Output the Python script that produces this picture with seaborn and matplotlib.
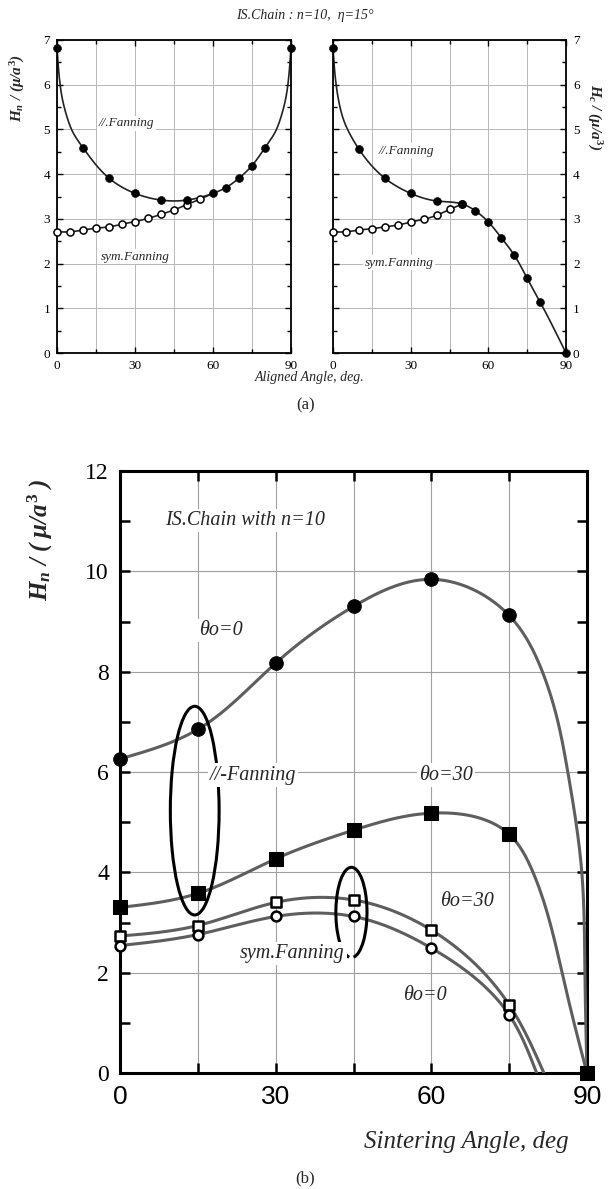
import numpy as np
import matplotlib
matplotlib.use("Agg")
import matplotlib.pyplot as plt
from matplotlib.patches import Arc
import seaborn as sns

sns.set_theme(style="white")
plt.rcParams["font.family"] = ["Liberation Serif", "DejaVu Serif"]
plt.rcParams["mathtext.fontset"] = "custom"
plt.rcParams["mathtext.it"] = "Liberation Serif:italic:bold"
plt.rcParams["mathtext.rm"] = "Liberation Serif:bold"
plt.rcParams["mathtext.bf"] = "Liberation Serif:bold"

# ---------------- data (a) ----------------
top_ang_par_l = [0, 10, 20, 30, 40, 50, 60, 65, 70, 75, 80, 90]
top_hn_par = [6.83, 4.59, 3.91, 3.57, 3.42, 3.42, 3.57, 3.70, 3.91, 4.19, 4.59, 6.83]
top_ang_sym_l = [0, 5, 10, 15, 20, 25, 30, 35, 40, 45, 50, 55]
top_hn_sym = [2.71, 2.71, 2.75, 2.79, 2.82, 2.88, 2.94, 3.01, 3.10, 3.20, 3.32, 3.44]
# curve points (left), including its steep ends
top_par_l_curve_x = [0, 1, 2, 4, 6, 10, 20, 30, 40, 45, 50, 60, 65, 70, 75, 80, 84, 86, 88, 89, 90]
top_par_l_curve_y = [6.83, 6.1, 5.7, 5.25, 4.95, 4.59, 3.91, 3.57, 3.42, 3.40, 3.42, 3.57, 3.70,
                     3.91, 4.19, 4.59, 4.95, 5.25, 5.7, 6.1, 6.83]
top_sym_l_curve_x = top_ang_sym_l + [60]
top_sym_l_curve_y = top_hn_sym + [3.57]

top_ang_par_r = [0, 10, 20, 30, 40, 50, 55, 60, 65, 70, 75, 80, 90]
top_hc_par = [6.83, 4.56, 3.91, 3.57, 3.40, 3.33, 3.18, 2.93, 2.58, 2.19, 1.67, 1.14, 0.0]
top_ang_sym_r = [0, 5, 10, 15, 20, 25, 30, 35, 40, 45, 50]
top_hc_sym = [2.71, 2.71, 2.75, 2.78, 2.82, 2.86, 2.93, 2.99, 3.08, 3.21, 3.33]
top_par_r_curve_x = [0, 1, 2, 4.5, 6.5] + top_ang_par_r[1:]
top_par_r_curve_y = [6.83, 6.1, 5.7, 5.15, 4.9] + top_hc_par[1:]

# ---------------- data (b) ----------------
sinter = [0, 15, 30, 45, 60, 75, 90]
par0 = [6.26, 6.85, 8.17, 9.30, 9.84, 9.12, 0.0]
par30 = [3.30, 3.58, 4.27, 4.84, 5.18, 4.76, 0.0]
sinter_sym = [0, 15, 30, 45, 60, 75]
sym30 = [2.73, 2.94, 3.40, 3.45, 2.85, 1.36]
sym0 = [2.54, 2.76, 3.12, 3.12, 2.49, 1.16]
# curve tails
par0_tail_x = [81.4, 84.4, 86.3, 89.0, 89.6]
par0_tail_y = [8.0, 7.0, 6.0, 4.0, 2.0]
par30_tail_x = [79.6, 85.2, 87.5]
par30_tail_y = [4.0, 2.0, 1.0]
sym30_end = (81.7, 0.0)
sym0_end = (80.3, 0.0)


def natural_spline(t, v, tn):
    t = np.asarray(t, float); v = np.asarray(v, float)
    n = len(t)
    h = np.diff(t)
    A = np.zeros((n, n)); b = np.zeros(n)
    A[0, 0] = 1; A[-1, -1] = 1
    for i in range(1, n - 1):
        A[i, i - 1] = h[i - 1]; A[i, i] = 2 * (h[i - 1] + h[i]); A[i, i + 1] = h[i]
        b[i] = 6 * ((v[i + 1] - v[i]) / h[i] - (v[i] - v[i - 1]) / h[i - 1])
    M = np.linalg.solve(A, b)
    idx = np.clip(np.searchsorted(t, tn) - 1, 0, n - 2)
    t0 = t[idx]; t1 = t[idx + 1]; hh = t1 - t0
    a = (t1 - tn) / hh; c = (tn - t0) / hh
    return (a * v[idx] + c * v[idx + 1]
            + ((a ** 3 - a) * M[idx] + (c ** 3 - c) * M[idx + 1]) * hh ** 2 / 6)


def smooth(xs, ys, sx, sy, n=400):
    X = np.asarray(xs, float) * sx; Y = np.asarray(ys, float) * sy
    t = np.concatenate([[0], np.cumsum(np.hypot(np.diff(X), np.diff(Y)))])
    tn = np.linspace(0, t[-1], n)
    return natural_spline(t, X, tn) / sx, natural_spline(t, Y, tn) / sy


fig = plt.figure(figsize=(6.10, 11.89), dpi=100)
W, H = 610.0, 1189.0
ax1 = fig.add_axes([57 / W, 1 - 353 / H, 234 / W, 313 / H])
ax2 = fig.add_axes([333 / W, 1 - 353 / H, 233 / W, 313 / H])
ax3 = fig.add_axes([120 / W, 1 - 1073 / H, 467 / W, 602 / H])

# ---------- top panels ----------
for ax in (ax1, ax2):
    ax.set_xlim(0, 90); ax.set_ylim(0, 7)
    ax.set_xticks([0, 30, 60, 90]); ax.set_xticks([15, 45, 75], minor=True)
    ax.set_yticks(range(8)); ax.set_yticks(np.arange(0.5, 7, 1.0), minor=True)
    ax.grid(axis="x", which="both", color="#b8b8b8", lw=0.7)
    ax.grid(axis="y", which="major", color="#b8b8b8", lw=0.7)
    ax.tick_params(which="both", direction="in", top=True, right=True, left=True, bottom=True,
                   width=1, colors="black", labelsize=9.5, pad=5)
    ax.tick_params(which="major", length=4)
    ax.tick_params(which="minor", length=3)
    for s in ax.spines.values():
        s.set_linewidth(1.3); s.set_color("black")
    ax.set_xlabel(""); ax.set_ylabel("")
ax2.tick_params(labelleft=False, labelright=True)

cx, cy = smooth(top_par_l_curve_x, top_par_l_curve_y, 2.6, 44.7)
sns.lineplot(x=cx, y=cy, ax=ax1, color="#222222", lw=1.2, sort=False, estimator=None)
cx, cy = smooth(top_sym_l_curve_x, top_sym_l_curve_y, 2.6, 44.7)
sns.lineplot(x=cx, y=cy, ax=ax1, color="#222222", lw=1.2, sort=False, estimator=None)
sns.scatterplot(x=top_ang_sym_l, y=top_hn_sym, ax=ax1, marker="o", s=26, facecolor="white",
                edgecolor="black", linewidth=1.1, zorder=5, clip_on=False)
sns.scatterplot(x=top_ang_par_l, y=top_hn_par, ax=ax1, marker="o", s=32, color="black",
                edgecolor="black", zorder=6, clip_on=False)

cx, cy = smooth(top_par_r_curve_x, top_par_r_curve_y, 2.6, 44.7)
sns.lineplot(x=cx, y=cy, ax=ax2, color="#222222", lw=1.2, sort=False, estimator=None)
cx, cy = smooth(top_ang_sym_r, top_hc_sym, 2.6, 44.7)
sns.lineplot(x=cx, y=cy, ax=ax2, color="#222222", lw=1.2, sort=False, estimator=None)
sns.scatterplot(x=top_ang_sym_r, y=top_hc_sym, ax=ax2, marker="o", s=26, facecolor="white",
                edgecolor="black", linewidth=1.1, zorder=5, clip_on=False)
sns.scatterplot(x=top_ang_par_r, y=top_hc_par, ax=ax2, marker="o", s=32, color="black",
                edgecolor="black", zorder=6, clip_on=False)

tb = dict(facecolor="white", edgecolor="none", pad=1.0)
ax1.text(26.8, 5.14, "//.Fanning", style="italic", fontsize=9.5, ha="center", va="center", bbox=tb, zorder=4)
ax1.text(30, 2.15, "sym.Fanning", style="italic", fontsize=9.5, ha="center", va="center", bbox=tb, zorder=4)
ax2.text(28.5, 4.52, "//.Fanning", style="italic", fontsize=9.5, ha="center", va="center", bbox=tb, zorder=4)
ax2.text(25.5, 2.02, "sym.Fanning", style="italic", fontsize=9.5, ha="center", va="center", bbox=tb, zorder=4)

fig.text(305 / W, 1 - 15 / H, "IS.Chain : n=10,  η=15°", style="italic", fontsize=10, ha="center", va="center")
fig.text(18 / W, 1 - 88 / H, "$H_n$ / (μ/$a^3$)", rotation=90, fontsize=11, fontweight="bold",
         style="italic", ha="center", va="center")
fig.text(594 / W, 1 - 117 / H, "$H_c$ / (μ/$a^3$)", rotation=-90, fontsize=11, fontweight="bold",
         style="italic", ha="center", va="center")
fig.text(310 / W, 1 - 378 / H, "Aligned Angle, deg.", style="italic", fontsize=10, ha="center", va="center")
fig.text(306 / W, 1 - 405 / H, "(a)", fontsize=12, ha="center", va="center")

# ---------- bottom panel ----------
ax3.set_xlim(0, 90); ax3.set_ylim(0, 12)
ax3.set_xticks([0, 30, 60, 90]); ax3.set_xticks([15, 45, 75], minor=True)
ax3.set_yticks(range(0, 13, 2)); ax3.set_yticks(range(1, 12, 2), minor=True)
ax3.grid(axis="x", which="both", color="#a0a0a0", lw=0.8)
ax3.grid(axis="y", which="major", color="#a0a0a0", lw=0.8)
ax3.tick_params(which="both", direction="in", top=True, right=True, left=True, bottom=True,
                width=1.8, length=7, colors="black")
ax3.tick_params(axis="y", labelsize=17, pad=8)
ax3.tick_params(axis="x", labelsize=19, pad=9)
for lbl in ax3.get_xticklabels():
    lbl.set_fontfamily("Liberation Sans")
for s in ax3.spines.values():
    s.set_linewidth(2.2); s.set_color("black")
ax3.set_xlabel(""); ax3.set_ylabel("")

lc = "#5e5e5e"
sx, sy = 5.19, 50.17
cx, cy = smooth(sinter[:6] + par0_tail_x + [90], par0[:6] + par0_tail_y + [0], sx, sy)
sns.lineplot(x=cx, y=cy, ax=ax3, color=lc, lw=2.2, sort=False, estimator=None, zorder=3)
cx, cy = smooth(sinter[:6] + par30_tail_x + [90], par30[:6] + par30_tail_y + [0], sx, sy)
sns.lineplot(x=cx, y=cy, ax=ax3, color=lc, lw=2.2, sort=False, estimator=None, zorder=3)
cx, cy = smooth(sinter_sym + [sym30_end[0]], sym30 + [sym30_end[1]], sx, sy)
sns.lineplot(x=cx, y=cy, ax=ax3, color=lc, lw=2.2, sort=False, estimator=None, zorder=3)
cx, cy = smooth(sinter_sym + [sym0_end[0]], sym0 + [sym0_end[1]], sx, sy)
sns.lineplot(x=cx, y=cy, ax=ax3, color=lc, lw=2.2, sort=False, estimator=None, zorder=3)

sns.scatterplot(x=sinter[:6], y=par0[:6], ax=ax3, marker="o", s=95, color="black", edgecolor="black",
                zorder=6, clip_on=False)
sns.scatterplot(x=sinter, y=par30, ax=ax3, marker="s", s=90, color="black", edgecolor="black",
                zorder=6, clip_on=False)
sns.scatterplot(x=sinter_sym, y=sym30, ax=ax3, marker="s", s=50, facecolor="white", edgecolor="black",
                linewidth=1.8, zorder=6, clip_on=False)
sns.scatterplot(x=sinter_sym, y=sym0, ax=ax3, marker="o", s=50, facecolor="white", edgecolor="black",
                linewidth=1.8, zorder=6, clip_on=False)

ax3.add_patch(Arc((14.4, 5.23), 9.4, 4.16, lw=2.2, color="black", zorder=4))
ax3.add_patch(Arc((44.6, 3.2), 6.0, 1.8, theta1=-65, theta2=245, lw=2.2, color="black", zorder=4))

bb = dict(facecolor="white", edgecolor="none", pad=1.5)
kw = dict(style="italic", fontsize=14.5, ha="center", va="center", zorder=5)
ax3.text(24.1, 11.02, "IS.Chain with n=10", bbox=bb, **kw)
ax3.text(19.5, 8.83, "θo=0", bbox=bb, **kw)
ax3.text(25.6, 5.94, "//-Fanning", bbox=bb, **kw)
ax3.text(62.8, 5.94, "θo=30", bbox=bb, **kw)
ax3.text(66.8, 3.42, "θo=30", **kw)
ax3.text(33.2, 2.39, "sym.Fanning", bbox=bb, **kw)
ax3.text(58.7, 1.55, "θo=0", **kw)

fig.text(40 / W, 1 - 540 / H, "$H_n$ / ( μ/$a^3$ )", rotation=90, fontsize=18, fontweight="bold",
         style="italic", ha="center", va="center")
fig.text(466 / W, 1 - 1142 / H, "Sintering Angle, deg", style="italic", fontsize=18, ha="center", va="center")
fig.text(305 / W, 1 - 1178 / H, "(b)", fontsize=12, ha="center", va="center")

fig.savefig("out.png", dpi=100)
